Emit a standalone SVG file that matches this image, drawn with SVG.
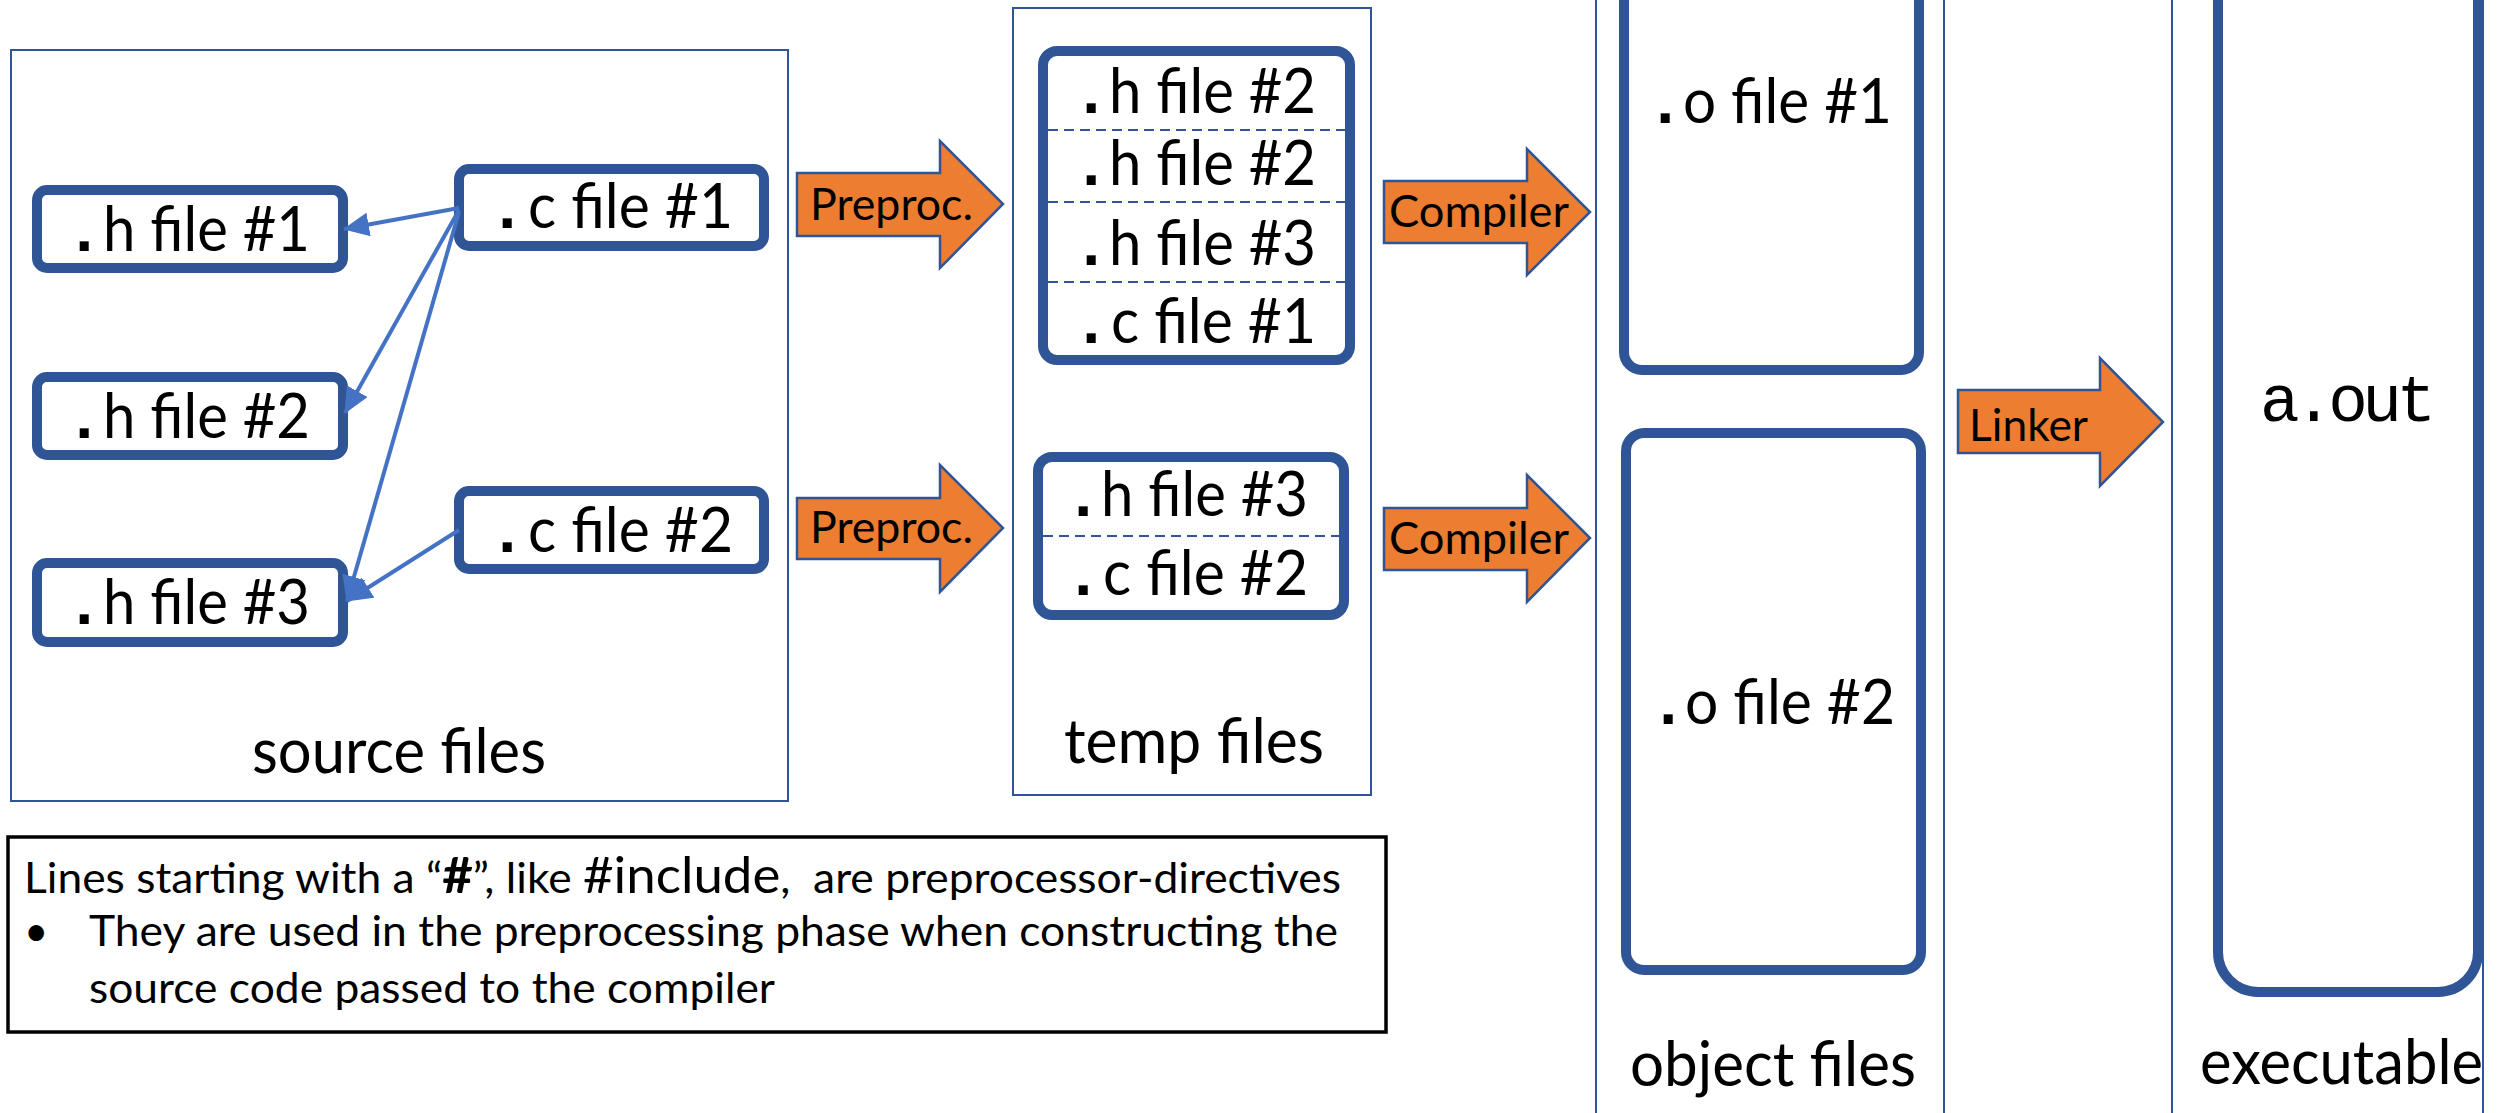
<svg xmlns="http://www.w3.org/2000/svg" width="2509" height="1113" viewBox="0 0 2509 1113">
  <defs>
    <style>
      .frame { fill: none; stroke: #2F5597; stroke-width: 2; }
      .node { fill: #FFFFFF; stroke: #2F5597; stroke-width: 10; }
      .sep { stroke: #2F5597; stroke-width: 2; stroke-dasharray: 10 6; fill: none; }
      .step { fill: #ED7D31; stroke: #2F5597; stroke-width: 2.5; stroke-linejoin: miter; }
      .link { stroke: #4472C4; stroke-width: 4; fill: none; marker-end: url(#head); }
      .lbl { font-family: Lato, "Open Sans", "Liberation Sans", sans-serif; font-size: 61px; fill: #000; }
      .dot { font-family: "Liberation Mono", "DejaVu Sans Mono", monospace; font-size: 64px; font-weight: bold; fill: #000; }
      .mono { font-family: "Liberation Mono", "DejaVu Sans Mono", monospace; font-size: 66px; fill: #000; }
      .act { font-family: Lato, "Open Sans", "Liberation Sans", sans-serif; font-size: 44px; fill: #000; }
      .note { font-family: Lato, "Open Sans", "Liberation Sans", sans-serif; font-size: 42px; fill: #000; white-space: pre; }
    </style>
    <marker id="head" markerUnits="userSpaceOnUse" viewBox="0 0 26 24" markerWidth="26" markerHeight="24" refX="25" refY="12" orient="auto">
      <path d="M0,0 L26,12 L0,24 Z" fill="#4472C4"/>
    </marker>
  </defs>

  <rect width="2509" height="1113" fill="#FFFFFF"/>

  <!-- stage frames -->
  <g id="frames">
    <rect class="frame" x="11" y="50" width="777" height="751"/>
    <rect class="frame" x="1013" y="8" width="358" height="787"/>
    <rect class="frame" x="1596" y="-10" width="348" height="1140"/>
    <rect class="frame" x="2172" y="-10" width="311" height="1140"/>
  </g>

  <!-- source files -->
  <g id="h1">
    <rect class="node" x="37" y="190" width="306" height="78" rx="10"/>
    <text class="dot" x="65" y="251">.</text>
    <text class="lbl" x="103" y="251" textLength="207" lengthAdjust="spacingAndGlyphs">h file #1</text>
  </g>
  <g id="h2">
    <rect class="node" x="37" y="377" width="306" height="78" rx="10"/>
    <text class="dot" x="65" y="438">.</text>
    <text class="lbl" x="103" y="438" textLength="207" lengthAdjust="spacingAndGlyphs">h file #2</text>
  </g>
  <g id="h3">
    <rect class="node" x="37" y="563" width="306" height="79" rx="10"/>
    <text class="dot" x="65" y="624">.</text>
    <text class="lbl" x="103" y="624" textLength="207" lengthAdjust="spacingAndGlyphs">h file #3</text>
  </g>
  <g id="c1">
    <rect class="node" x="459" y="169" width="305" height="77" rx="10"/>
    <text class="dot" x="488" y="228">.</text>
    <text class="lbl" x="528" y="228" textLength="205" lengthAdjust="spacingAndGlyphs">c file #1</text>
  </g>
  <g id="c2">
    <rect class="node" x="459" y="491" width="305" height="78" rx="10"/>
    <text class="dot" x="488" y="552">.</text>
    <text class="lbl" x="528" y="552" textLength="205" lengthAdjust="spacingAndGlyphs">c file #2</text>
  </g>
  <g id="source-label">
    <text class="lbl" x="252" y="773" textLength="294" lengthAdjust="spacingAndGlyphs">source files</text>
  </g>

  <!-- include relations -->
  <g id="connectors">
    <line class="link" x1="459" y1="208" x2="344" y2="229"/>
    <line class="link" x1="459" y1="210" x2="345" y2="413"/>
    <line class="link" x1="459" y1="212" x2="347" y2="601"/>
    <line class="link" x1="459" y1="530" x2="347" y2="601"/>
  </g>

  <!-- processing steps -->
  <g id="preproc1">
    <path class="step" d="M797,173 L940,173 L940,141 L1003,204 L940,268 L940,236 L797,236 Z"/>
    <text class="act" x="810" y="220" textLength="163" lengthAdjust="spacingAndGlyphs">Preproc.</text>
  </g>
  <g id="preproc2">
    <path class="step" d="M797,498 L940,498 L940,465 L1003,528 L940,592 L940,559 L797,559 Z"/>
    <text class="act" x="810" y="543" textLength="163" lengthAdjust="spacingAndGlyphs">Preproc.</text>
  </g>
  <g id="compiler1">
    <path class="step" d="M1384,181 L1527,181 L1527,149 L1590,212 L1527,275 L1527,243 L1384,243 Z"/>
    <text class="act" x="1389" y="227" textLength="180" lengthAdjust="spacingAndGlyphs">Compiler</text>
  </g>
  <g id="compiler2">
    <path class="step" d="M1384,508 L1527,508 L1527,475 L1590,538 L1527,602 L1527,570 L1384,570 Z"/>
    <text class="act" x="1389" y="554" textLength="180" lengthAdjust="spacingAndGlyphs">Compiler</text>
  </g>
  <g id="linker">
    <path class="step" d="M1958,390 L2100,390 L2100,358 L2163,422 L2100,486 L2100,453 L1958,453 Z"/>
    <text class="act" x="1969" y="441" textLength="119" lengthAdjust="spacingAndGlyphs">Linker</text>
  </g>

  <!-- temp files -->
  <g id="temp1">
    <rect class="node" x="1043" y="51" width="307" height="309" rx="14"/>
    <line class="sep" x1="1048" y1="130" x2="1345" y2="130"/>
    <line class="sep" x1="1048" y1="202" x2="1345" y2="202"/>
    <line class="sep" x1="1048" y1="282" x2="1345" y2="282"/>
    <text class="dot" x="1072" y="113">.</text>
    <text class="lbl" x="1109" y="113" textLength="207" lengthAdjust="spacingAndGlyphs">h file #2</text>
    <text class="dot" x="1072" y="185">.</text>
    <text class="lbl" x="1109" y="185" textLength="207" lengthAdjust="spacingAndGlyphs">h file #2</text>
    <text class="dot" x="1072" y="265">.</text>
    <text class="lbl" x="1109" y="265" textLength="207" lengthAdjust="spacingAndGlyphs">h file #3</text>
    <text class="dot" x="1072" y="343">.</text>
    <text class="lbl" x="1111" y="343" textLength="205" lengthAdjust="spacingAndGlyphs">c file #1</text>
  </g>
  <g id="temp2">
    <rect class="node" x="1038" y="457" width="306" height="158" rx="14"/>
    <line class="sep" x1="1043" y1="536" x2="1339" y2="536"/>
    <text class="dot" x="1064" y="516">.</text>
    <text class="lbl" x="1101" y="516" textLength="207" lengthAdjust="spacingAndGlyphs">h file #3</text>
    <text class="dot" x="1064" y="595">.</text>
    <text class="lbl" x="1103" y="595" textLength="205" lengthAdjust="spacingAndGlyphs">c file #2</text>
  </g>
  <g id="temp-label">
    <text class="lbl" x="1064" y="763" textLength="260" lengthAdjust="spacingAndGlyphs">temp files</text>
  </g>

  <!-- object files -->
  <g id="o1">
    <rect class="node" x="1624" y="-60" width="295" height="430" rx="18"/>
    <text class="dot" x="1646" y="123">.</text>
    <text class="lbl" x="1683" y="123" textLength="209" lengthAdjust="spacingAndGlyphs">o file #1</text>
  </g>
  <g id="o2">
    <rect class="node" x="1626" y="433" width="295" height="537" rx="18"/>
    <text class="dot" x="1649" y="724">.</text>
    <text class="lbl" x="1685" y="724" textLength="210" lengthAdjust="spacingAndGlyphs">o file #2</text>
  </g>
  <g id="object-label">
    <text class="lbl" x="1630" y="1086" textLength="286" lengthAdjust="spacingAndGlyphs">object files</text>
  </g>

  <!-- executable -->
  <g id="aout">
    <rect class="node" x="2218" y="-80" width="260" height="1072" rx="40"/>
    <text class="mono" x="2260" y="421" textLength="176">a.out</text>
  </g>
  <g id="exec-label">
    <text class="lbl" x="2200" y="1084" textLength="283" lengthAdjust="spacingAndGlyphs">executable</text>
  </g>

  <!-- note -->
  <g id="note">
    <rect x="8" y="837" width="1378" height="195" fill="#FFFFFF" stroke="#000000" stroke-width="3.5"/>
    <text class="note" x="24" y="893" textLength="1317" lengthAdjust="spacingAndGlyphs">Lines starting with a “<tspan font-size="50" font-weight="bold">#</tspan>”, like <tspan font-size="50">#include</tspan>,  are preprocessor-directives</text>
    <text class="note" x="24" y="946" font-size="34">•</text>
    <text class="note" x="89" y="946" textLength="1249" lengthAdjust="spacingAndGlyphs">They are used in the preprocessing phase when constructing the</text>
    <text class="note" x="89" y="1003" textLength="686" lengthAdjust="spacingAndGlyphs">source code passed to the compiler</text>
  </g>
</svg>
